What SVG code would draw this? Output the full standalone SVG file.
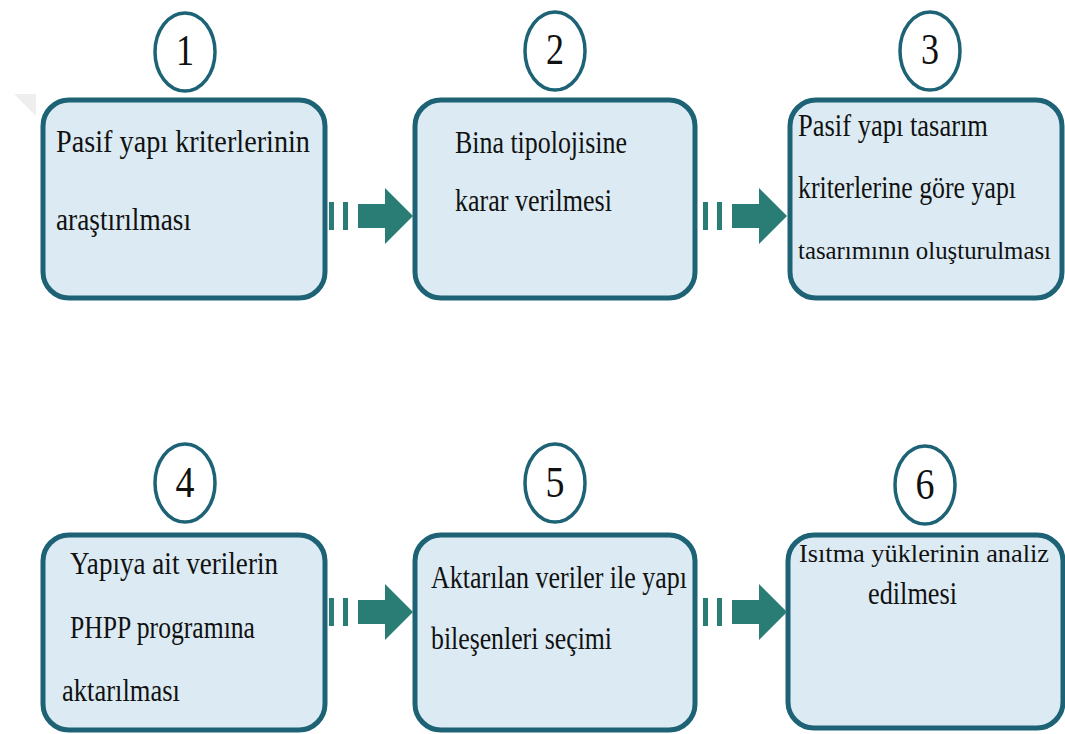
<svg xmlns="http://www.w3.org/2000/svg" width="1065" height="734" viewBox="0 0 1065 734">
<style>
.box{fill:#dcebf3;stroke:#1d6375;stroke-width:5}
.num{fill:#ffffff;stroke:#1d6375;stroke-width:3.5}
.t{font-family:"Liberation Serif","Times New Roman",serif;font-size:31px;fill:#111}
.ts{font-size:25px}
.n{font-family:"Liberation Serif","Times New Roman",serif;font-size:44px;fill:#111;text-anchor:middle}
.ar{fill:#2a7d74}
</style>
<defs>
<g id="arrow">
<rect x="0" y="-14" width="5" height="28"/>
<rect x="14" y="-14" width="5" height="28"/>
<polygon points="29,-12 56,-12 56,-28 84,0 56,28 56,12 29,12"/>
</g>
</defs>
<rect width="1065" height="734" fill="#ffffff"/>
<polygon points="14,94 36,94 36,116" fill="#eeeeee"/>

<g id="node1">
<ellipse class="num" cx="185" cy="52" rx="30" ry="39"/>
<text class="n" x="185" y="65" textLength="18" lengthAdjust="spacingAndGlyphs">1</text>
<rect class="box" x="43" y="100" width="282" height="198" rx="26"/>
<text class="t" x="56" y="152" textLength="254" lengthAdjust="spacingAndGlyphs">Pasif yapı kriterlerinin</text>
<text class="t" x="56" y="230" textLength="135" lengthAdjust="spacingAndGlyphs">araştırılması</text>
</g>

<g id="node2">
<ellipse class="num" cx="555" cy="51" rx="30" ry="39"/>
<text class="n" x="555" y="64" textLength="18" lengthAdjust="spacingAndGlyphs">2</text>
<rect class="box" x="415" y="100" width="280" height="198" rx="26"/>
<text class="t" x="455" y="153" textLength="172" lengthAdjust="spacingAndGlyphs">Bina tipolojisine</text>
<text class="t" x="455" y="211" textLength="157" lengthAdjust="spacingAndGlyphs">karar verilmesi</text>
</g>

<g id="node3">
<ellipse class="num" cx="930" cy="51" rx="30" ry="39"/>
<text class="n" x="930" y="64" textLength="18" lengthAdjust="spacingAndGlyphs">3</text>
<rect class="box" x="790" y="100" width="272" height="198" rx="26"/>
<text class="t" x="798" y="136" textLength="190" lengthAdjust="spacingAndGlyphs">Pasif yapı tasarım</text>
<text class="t" x="798" y="198" textLength="218" lengthAdjust="spacingAndGlyphs">kriterlerine göre yapı</text>
<text class="t ts" x="798" y="259" textLength="253" lengthAdjust="spacingAndGlyphs">tasarımının oluşturulması</text>
</g>

<g id="node4">
<ellipse class="num" cx="185" cy="483" rx="30" ry="39"/>
<text class="n" x="185" y="497" textLength="19" lengthAdjust="spacingAndGlyphs">4</text>
<rect class="box" x="43" y="535" width="282" height="195" rx="26"/>
<text class="t" x="70" y="574" textLength="208" lengthAdjust="spacingAndGlyphs">Yapıya ait verilerin</text>
<text class="t" x="70" y="638" textLength="185" lengthAdjust="spacingAndGlyphs">PHPP programına</text>
<text class="t" x="62" y="701" textLength="118" lengthAdjust="spacingAndGlyphs">aktarılması</text>
</g>

<g id="node5">
<ellipse class="num" cx="555" cy="483" rx="30" ry="39"/>
<text class="n" x="555" y="497" textLength="19" lengthAdjust="spacingAndGlyphs">5</text>
<rect class="box" x="415" y="535" width="280" height="195" rx="26"/>
<text class="t" x="431" y="588" textLength="256" lengthAdjust="spacingAndGlyphs">Aktarılan veriler ile yapı</text>
<text class="t" x="431" y="649" textLength="181" lengthAdjust="spacingAndGlyphs">bileşenleri seçimi</text>
</g>

<g id="node6">
<ellipse class="num" cx="925" cy="485" rx="30" ry="39"/>
<text class="n" x="925" y="499" textLength="19" lengthAdjust="spacingAndGlyphs">6</text>
<rect class="box" x="788" y="535" width="275" height="193" rx="26"/>
<text class="t ts" x="799" y="562" textLength="250" lengthAdjust="spacingAndGlyphs">Isıtma yüklerinin analiz</text>
<text class="t" x="868" y="604" textLength="89" lengthAdjust="spacingAndGlyphs">edilmesi</text>
</g>

<g id="connectors" class="ar">
<use href="#arrow" x="329" y="216"/>
<use href="#arrow" x="703" y="216"/>
<use href="#arrow" x="329" y="612"/>
<use href="#arrow" x="703" y="612"/>
</g>
</svg>
